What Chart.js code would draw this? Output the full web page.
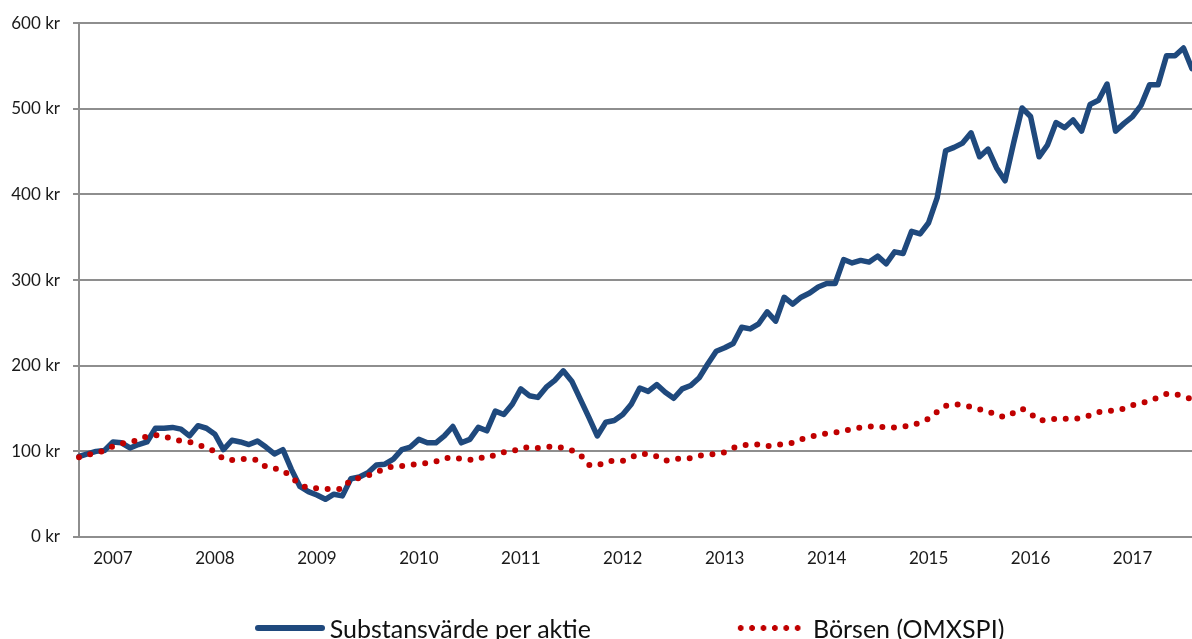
<!DOCTYPE html>
<html lang="sv">
<head>
  <meta charset="UTF-8">
  <title>Substansvärde per aktie mot Börsen (OMXSPI)</title>
  <script src="https://cdn.jsdelivr.net/npm/chart.js"></script>
  <style>
    body {
      margin: 0;
      background: #fff;
      font-family: Lato, 'Noto Sans', sans-serif;
    }
    .wrap {
      position: relative;
      width: 1192px;
      height: 639px;
      overflow: hidden;
    }
    #legend {
      position: absolute;
      left: 79px;
      right: 12px;
      top: 613px;
      display: flex;
      justify-content: center;
      gap: 144px;
      font-size: 25px;
      color: #111;
      white-space: nowrap;
    }
    .item {
      display: flex;
      align-items: center;
    }
    .swatch-line {
      width: 70px;
      height: 6px;
      border-radius: 3px;
      margin-right: 5px;
    }
    .swatch-dots {
      width: 66px;
      height: 6px;
      margin-right: 12px;
      background-repeat: repeat-x;
      background-size: 11.4px 6px;
    }
  </style>
</head>
<body>
  <div class="wrap">
    <canvas id="navChart"></canvas>
    <div id="legend"></div>
  </div>
  <script>
    // monthly observations, first month 2006-09
    const startYear = 2006, startMonth = 9, monthCount = 132;
    const months = [];
    for (let i = 0; i < monthCount; i++) {
      const m = (startMonth - 1 + i) % 12 + 1;
      const y = startYear + Math.floor((startMonth - 1 + i) / 12);
      months.push(y + '-' + String(m).padStart(2, '0'));
    }

    const yearTicks = ['2007', '2008', '2009', '2010', '2011', '2012', '2013', '2014', '2015', '2016', '2017'];

    const substansvarde = [
      94, 97, 100, 101, 111, 110, 104, 108, 111, 127, 127, 128,
      126, 118, 130, 127, 120, 102, 113, 111, 108, 112, 105, 97,
      102, 79, 59, 53, 49, 44, 50, 48, 68, 70, 75, 84,
      85, 91, 102, 105, 114, 110, 110, 118, 129, 110, 114, 128,
      124, 147, 143, 155, 173, 165, 163, 175, 183, 194, 182, 161,
      140, 118, 134, 136, 143, 155, 174, 170, 178, 169, 162, 173,
      177, 186, 202, 217, 221, 226, 245, 243, 249, 263, 252, 280,
      272, 280, 285, 292, 296, 296, 324, 320, 323, 321, 328, 319,
      333, 331, 357, 354, 367, 396, 451, 455, 460, 472, 444, 453,
      431, 416, 460, 501, 491, 444, 458, 484, 478, 487, 474, 505,
      510, 529, 474, 483, 491, 504, 528, 528, 562, 562, 571, 547
    ];

    const borsen = [
      93, 96, 98, 101, 106, 109, 111, 113, 118, 119, 117, 115,
      112, 111, 108, 104, 100, 91, 90, 91, 91, 90, 82, 80,
      78, 70, 61, 57, 57, 56, 56, 56, 67, 69, 72, 75,
      81, 82, 83, 84, 86, 86, 88, 92, 93, 91, 90, 93,
      92, 96, 99, 100, 104, 105, 104, 105, 106, 104, 101, 96,
      84, 83, 88, 89, 89, 93, 97, 97, 94, 89, 91, 92,
      92, 95, 96, 97, 99, 104, 107, 108, 108, 106, 107, 109,
      110, 114, 117, 119, 121, 122, 124, 126, 128, 129, 129, 128,
      128, 129, 130, 134, 138, 146, 153, 155, 154, 152, 149, 147,
      142, 140, 145, 150, 144, 136, 137, 138, 138, 138, 139, 142,
      146, 147, 148, 150, 154, 156, 159, 163, 167, 167, 164, 161
    ];

    const gridGray = '#8e8e8e';
    const textColor = '#1a1a1a';

    const chart = new Chart(document.getElementById('navChart'), {
      type: 'line',
      data: {
        labels: months,
        datasets: [{
          label: 'Substansvärde per aktie',
          data: substansvarde,
          borderColor: '#1f497d',
          backgroundColor: '#1f497d',
          borderWidth: 5.5,
          borderJoinStyle: 'round',
          borderCapStyle: 'round',
          pointRadius: 0,
          tension: 0,
          order: 1
        }, {
          label: 'Börsen (OMXSPI)',
          data: borsen,
          borderColor: '#c00000',
          backgroundColor: '#c00000',
          borderWidth: 6,
          borderCapStyle: 'round',
          borderDash: [0, 11.6],
          pointRadius: 0,
          tension: 0,
          order: 0
        }]
      },
      options: {
        responsive: true,
        maintainAspectRatio: false,
        animation: false,
        layout: { padding: { top: 22, right: 0, bottom: 0, left: 0 } },
        plugins: {
          legend: { display: false },
          tooltip: { enabled: false }
        },
        scales: {
          x: {
            type: 'category',
            offset: false,
            grid: { display: false, drawTicks: false },
            border: { display: false },
            ticks: {
              autoSkip: false,
              maxRotation: 0,
              padding: 11,
              color: textColor,
              font: { family: 'Lato', size: 17 },
              callback: function (value) {
                const label = this.getLabelForValue(value);
                const year = label.slice(0, 4);
                return label.endsWith('-01') && yearTicks.includes(year) ? year : '';
              }
            },
            afterFit: scale => {
              scale.height = 102;
              // plot runs right up to the canvas edge
              scale.paddingLeft = 0;
              scale.paddingRight = 0;
            }
          },
          y: {
            min: 0,
            max: 600,
            grid: { color: gridGray, lineWidth: 2, tickLength: 6 },
            border: { display: true, color: gridGray, width: 2 },
            ticks: {
              stepSize: 100,
              padding: 13,
              color: textColor,
              font: { family: 'Lato', size: 17 },
              callback: v => v + ' kr'
            },
            afterFit: scale => { scale.width = 79; }
          }
        }
      }
    });

    // simple html legend built from the datasets
    const legend = document.getElementById('legend');
    chart.data.datasets.forEach(ds => {
      const item = document.createElement('div');
      item.className = 'item';
      const sw = document.createElement('span');
      if (ds.borderDash) {
        sw.className = 'swatch-dots';
        sw.style.backgroundImage = `radial-gradient(circle, ${ds.borderColor} 2.6px, transparent 3.2px)`;
      } else {
        sw.className = 'swatch-line';
        sw.style.background = ds.borderColor;
      }
      const txt = document.createElement('span');
      txt.textContent = ds.label;
      item.appendChild(sw);
      item.appendChild(txt);
      legend.appendChild(item);
    });
  </script>
</body>
</html>
